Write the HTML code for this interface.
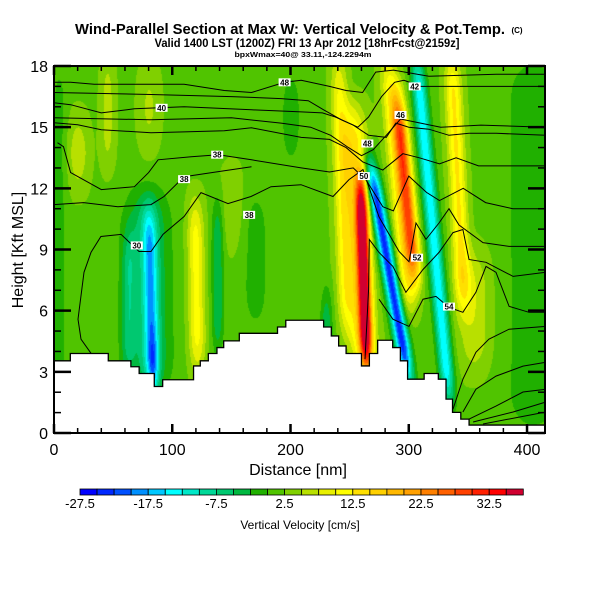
<!DOCTYPE html>
<html><head><meta charset="utf-8">
<style>
html,body{margin:0;padding:0;background:#fff;width:600px;height:600px;overflow:hidden}
#wrap{position:relative;width:600px;height:600px}
#field{position:absolute;left:54px;top:66px}
svg{position:absolute;left:0;top:0}
text{font-family:"Liberation Sans",sans-serif;fill:#000}
</style></head><body>
<div id="wrap">
<canvas id="field" width="491" height="367"></canvas>
<svg id="svg" width="600" height="600">
<text x="290" y="34" font-size="15" font-weight="bold" text-anchor="middle" textLength="430" lengthAdjust="spacingAndGlyphs">Wind-Parallel Section at Max W: Vertical Velocity &amp; Pot.Temp.</text>
<text x="517" y="33" font-size="8" font-weight="bold" text-anchor="middle">(C)</text>
<text x="307" y="47" font-size="11.5" font-weight="bold" text-anchor="middle" textLength="305" lengthAdjust="spacingAndGlyphs">Valid 1400 LST (1200Z) FRI 13 Apr 2012 [18hrFcst@2159z]</text>
<text x="303" y="57" font-size="7" font-weight="bold" text-anchor="middle" textLength="137" lengthAdjust="spacingAndGlyphs">bpxWmax=40@ 33.11,-124.2294m</text>
<g id="terrain"></g>
<g id="contours"></g>
<g id="axes"></g>
<text x="298" y="475" font-size="16" text-anchor="middle">Distance [nm]</text>
<text transform="translate(23,250) rotate(-90)" font-size="16" text-anchor="middle">Height [Kft MSL]</text>
<g id="cbar"></g>
<text x="300" y="529" font-size="12" text-anchor="middle">Vertical Velocity [cm/s]</text>
</svg>
</div>
<script>
// ---- data ----
const levels = [-27.5,-25,-22.5,-20,-17.5,-15,-12.5,-10,-7.5,-5,-2.5,0,2.5,5,7.5,10,12.5,15,17.5,20,22.5,25,27.5,30,32.5,35,37.5];
const levelColors = ["#0000ff","#0028ff","#0050ff","#0090ff","#00c8ff","#00ffff","#00e8c8","#00d898","#00c870","#00b840","#20b000","#50c400","#80d000","#b8e000","#e8f000","#ffff00","#ffe000","#ffd000","#ffb800","#ffa000","#ff8000","#ff6000","#ff4000","#ff2000","#ff0000","#d00030"];
const cbarLabels = [-27.5,-17.5,-7.5,2.5,12.5,22.5,32.5];
const xTicks = [0,100,200,300,400];
const yTicks = [0,3,6,9,12,15,18];
const baseW = 2;
// vertical-velocity streaks (nm at bottom, nm at top, bottom kft, top kft, amplitude cm/s, half-width nm)
const streakX0  = [83, 80, 121, 138, 62, 20, 45, 264, 262, 300, 305, 300, 334, 346, 247, 355, 405, 230, 170, 4, 80, 150, 200, 84];
const streakX1  = [80, 78, 119, 138, 63, 20, 45, 259, 252, 266, 290, 282, 306, 336, 240, 355, 405, 230, 170, 4, 80, 150, 200, 83];
const streakBot = [2, 2, 3, 4, 3, 12, 13, 3.2, 3, 2.5, 7.5, 6, 1.5, 6, 5, 3, 0, 3.5, 5, 0, 14, 9, 13, 1.5];
const streakTop = [11, 12, 11.5, 11.5, 10, 15.5, 18.5, 12.5, 16, 13.5, 16.5, 18.5, 18.5, 18.5, 18.5, 9, 18.5, 7, 12, 18, 18, 13, 18, 5];
const streakAmp = [-13, -8, 9, -7, -6, 5, 4, 33, 12, -26, 22, 10, -17, 11, 8, 5, -3.5, -7, -3, -3, 3.5, 3, -3, -6];
const streakWid = [6, 18, 7, 5, 6, 9, 6, 5, 11, 6, 6, 8, 6, 7, 7, 14, 25, 5, 12, 6, 9, 10, 10, 4];
// terrain steps
const terrX = [0,13.8,45.9,65,72,84.8,91.9,118,123.7,130.5,137.8,143.5,156.7,189,196,228,234.5,240.7,247,260,266.7,273.7,286.4,292.9,299,313,325,331.5,337,344,351,416];
const terrH = [3.54,3.90,3.54,3.25,2.92,2.28,2.61,3.29,3.54,3.90,4.19,4.52,4.89,5.20,5.53,5.20,4.76,4.27,3.90,3.29,3.90,4.55,4.19,3.54,2.64,2.92,2.64,1.66,1.01,0.68,0.39];
// potential temperature contours (nm, kft)
const thetaLines = [
 [[0,17.2],[14,17.2],[34,17.1],[110,17.1],[144,16.8],[167,16.7],[195,17.2],[209,17.3],[233,17.0],[247,16.8],[261,16.7],[272,17.7],[287,17.8],[317,17.5],[374,17.6],[416,17.6]],
 [[0,16.7],[82,16.6],[150,16.5],[192,16.4],[215,16.3],[228,15.85],[243,15.36],[257,15.0],[266,15.5],[277,16.5],[288,17.2],[296,17.3],[310,17.0],[327,17.0],[416,17.0]],
 [[0,16.2],[14,16.1],[40,15.7],[68,15.9],[110,16.0],[167,15.85],[209,15.75],[227,15.7],[238,15.5],[253,15.1],[266,14.6],[281,14.5],[289,15.2],[300,15.0],[317,14.9],[334,14.6],[351,14.7],[374,14.7],[416,14.6]],
 [[0,15.46],[82,15.36],[150,15.46],[192,15.2],[217,15.0],[234,14.6],[249,14.0],[260,13.6],[270,13.9],[281,14.6],[293,15.4],[310,15.2],[327,15.0],[361,15.1],[416,15.0]],
 [[0,15.22],[20,15.12],[40,14.87],[82,14.73],[110,14.77],[144,14.82],[167,14.97],[209,14.5],[233,14.4],[247,14.0],[261,13.3],[278,12.9],[295,13.7],[309,13.5],[326,13.2],[340,13.5],[359,13.1],[388,13.1],[416,13.1]],
 [[3,14.24],[8,14.04],[14,12.77],[40,11.94],[68,12.08],[80,12.77],[88,13.4],[116,13.55],[139,13.65],[167,13.4],[209,13.0],[233,12.8],[253,13.0],[264,12.4],[278,11.1],[287,10.9],[300,12.6],[315,11.8],[326,11.4],[346,12.0],[365,11.3],[388,11.0],[416,11.0]],
 [[0,11.2],[25,11.3],[54,11.1],[82,11.2],[93,11.6],[110,12.57],[139,12.82],[167,13.06]],
 [[31.3,3.91],[22.8,4.6],[20.3,5.58],[25.4,7.88],[31.3,8.86],[39.7,9.64],[56.7,9.74],[71.9,8.9],[82,8.9],[92.2,9.74],[110,10.62],[124.3,11.79],[147.1,11.25],[166.6,11.6],[183.5,12.08],[208.9,12.18],[235.9,11.6],[249.5,12.43],[261.3,12.92],[274.8,10.6],[291.8,8.9],[300.2,8.4],[306.1,10.3],[314.6,9.5],[325.6,10.3],[334,11.0],[342.5,10.2],[362.8,9.34],[384.8,9.15],[416,9.15]],
 [[263,3.62],[266,7.05],[266.6,9.49],[274.8,8.86],[286.6,8.17],[297.6,6.9],[312,8.02],[325.6,8.86],[337.4,9.83],[345.8,9.98],[350.9,8.51],[365.3,8.37],[388.2,7.68],[416,7.88]],
 [[274.8,6.56],[286.6,5.58],[300.2,5.23],[312,6.56],[323,6.7],[334,6.16],[345.8,5.92],[356.8,6.9],[365.3,8.17],[373.8,7.88],[384.8,6.21],[401.7,5.92],[416,5.92]],
 [[337.4,1.17],[345.8,2.64],[356.8,3.96],[367.8,4.6],[384.8,5.09],[416,5.23]],
 [[345.8,1.03],[356.8,2.15],[373.8,2.79],[396.6,3.28],[416,3.47]],
 [[351,0.68],[373.8,1.32],[396.6,2.01],[416,2.15]],
 [[354.4,0.54],[388.2,1.03],[416,1.52]],
 [[362.8,0.44],[416,1.03]]
];
const labelText = ["48","40","38","38","38","30","42","46","48","50","52","54"];
const labelX = [195,91,138,110,165,70,305,293,265,262,307,334];
const labelY = [17.2,15.95,13.65,12.45,10.7,9.2,17.0,15.6,14.2,12.6,8.6,6.2];

// ---- axes ----
const L=54, T=66, W=491, H=367, XMAX=415.2, YMAX=18;
const sx = v => L + v/XMAX*W;
const sy = v => T + H - v/YMAX*H;
const NS="http://www.w3.org/2000/svg";
function mk(tag, attrs, parent){const e=document.createElementNS(NS,tag);for(const k in attrs)e.setAttribute(k,attrs[k]);parent.appendChild(e);return e;}

// ---- field ----
function sm(t){t=Math.max(0,Math.min(1,t));return t*t*(3-2*t);}
function field(x,h){
  let v=baseW;
  for(let i=0;i<streakAmp.length;i++){
    const b=streakBot[i], t=streakTop[i];
    if(h<b-2||h>t+2)continue;
    const f=(h-b)/(t-b);
    const xc=streakX0[i]+(streakX1[i]-streakX0[i])*Math.max(0,Math.min(1,f));
    const env=sm((h-b+1.5)/3.5)*sm((t-h+1.5)/3.5);
    const d=(x-xc)/streakWid[i];
    v+=streakAmp[i]*env*Math.exp(-d*d);
  }
  return v;
}
function colorIdx(v){let k=Math.floor((v-levels[0])/2.5);return Math.max(0,Math.min(levelColors.length-1,k));}
const cv=document.getElementById('field'), ctx=cv.getContext('2d');
const rgb=levelColors.map(c=>[parseInt(c.substr(1,2),16),parseInt(c.substr(3,2),16),parseInt(c.substr(5,2),16)]);
const img=ctx.createImageData(W,H);
for(let py=0;py<H;py++){
  const h=(H-py)/H*YMAX;
  for(let px=0;px<W;px++){
    const x=px/W*XMAX;
    const c=rgb[colorIdx(field(x,h))];
    const o=(py*W+px)*4;img.data[o]=c[0];img.data[o+1]=c[1];img.data[o+2]=c[2];img.data[o+3]=255;
  }
}
ctx.putImageData(img,0,0);

// ---- terrain ----
const tg=document.getElementById('terrain');
let tp=`M${sx(0)},${sy(0)}`, tl='';
for(let i=0;i<terrH.length;i++){
  const x0=sx(terrX[i]), x1=sx(terrX[i+1]), y=sy(terrH[i]);
  tp+=` L${x0},${y} L${x1},${y}`;
  tl+=(i===0?'M':' L')+`${x0},${y} L${x1},${y}`;
}
tp+=` L${sx(XMAX)},${sy(0)} Z`;
const tf=mk('path',{d:tp,fill:'#fff',stroke:'none'},tg);


const tline=mk('path',{d:tl,fill:'none',stroke:'#000','stroke-width':1.3},tg);



// ---- contours ----
const cg=document.getElementById('contours');
thetaLines.forEach((ln,i)=>{
  const d=ln.map((p,j)=>(j?'L':'M')+sx(p[0]).toFixed(1)+','+sy(p[1]).toFixed(1)).join(' ');
  const p=mk('path',{d:d,fill:'none',stroke:'#000','stroke-width':1},cg);
  
  
});
labelText.forEach((t,i)=>{
  const x=sx(labelX[i]), y=sy(labelY[i]);
  const r=mk('rect',{x:x-6,y:y-4,width:12,height:8,fill:'#fff'},cg);
  
  
  const tx=mk('text',{x:x,y:y+3,'font-size':8,'font-weight':'bold','text-anchor':'middle'},cg);
  tx.textContent=t;
  
  
});

// ---- axes ----
const ag=document.getElementById('axes');
const fr=mk('rect',{x:L,y:T,width:W,height:H,fill:'none',stroke:'#000','stroke-width':2},ag);


for(let v=0;v<=XMAX;v+=20){
  const maj=v%100===0, len=maj?9:5, x=sx(v);
  const a=mk('line',{x1:x,x2:x,y1:T+H,y2:T+H-len,stroke:'#000','stroke-width':maj?2.5:1.5},ag);
  
  
  const b=mk('line',{x1:x,x2:x,y1:T,y2:T+len,stroke:'#000','stroke-width':maj?2.5:1.5},ag);
  
  
}
for(let v=0;v<=YMAX;v+=1){
  const maj=v%3===0, len=maj?17:7, y=sy(v);
  const a=mk('line',{x1:L,x2:L+len,y1:y,y2:y,stroke:'#000','stroke-width':maj?2.5:1.5},ag);
  
  
  const b=mk('line',{x1:L+W,x2:L+W-len,y1:y,y2:y,stroke:'#000','stroke-width':maj?2.5:1.5},ag);
  
  
}
xTicks.forEach(v=>{
  const t=mk('text',{x:sx(v),y:455,'font-size':16,'text-anchor':'middle'},ag);
  t.textContent=v;
  
  
});
yTicks.forEach(v=>{
  const t=mk('text',{x:48,y:sy(v)+6,'font-size':16,'text-anchor':'end'},ag);
  t.textContent=v;
  
  
});

// ---- colorbar ----
const bg=document.getElementById('cbar');
const CB0=80, CBW=17.05, CBY=489, CBH=6;
levelColors.forEach((c,i)=>{
  const r=mk('rect',{x:CB0+i*CBW,y:CBY,width:CBW,height:CBH,fill:c,stroke:'#000','stroke-width':0.8},bg);
  
  
});
cbarLabels.forEach(v=>{
  const i=(v-levels[0])/2.5;
  const t=mk('text',{x:CB0+i*CBW,y:508,'font-size':13,'text-anchor':'middle'},bg);
  t.textContent=v;
  
  
});
</script>
</body></html>
